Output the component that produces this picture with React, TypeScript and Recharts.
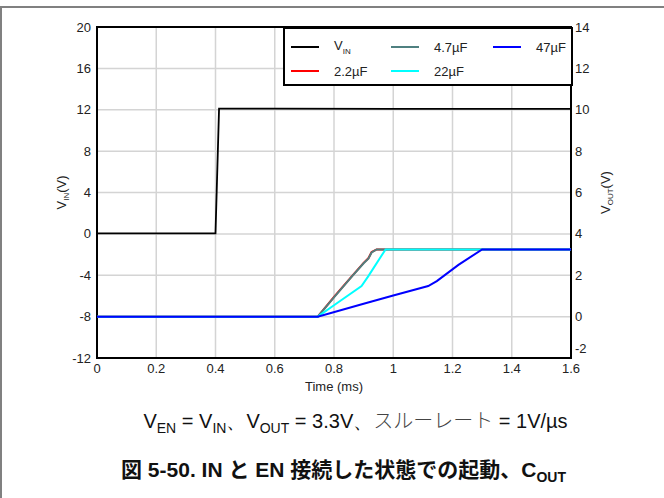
import { LineChart, Line, XAxis, YAxis, CartesianGrid, ReferenceArea } from "recharts";

// time in ms, voltages in V
const timeTicks = [0, 0.2, 0.4, 0.6, 0.8, 1, 1.2, 1.4, 1.6];
const vinTicks = [-12, -8, -4, 0, 4, 8, 12, 16, 20];
const voutTicks = [-2, 0, 2, 4, 6, 8, 10, 12, 14];

const vinT = [0, 0.4, 0.412, 0.6, 1.0, 1.6];
const vinV = [0.05, 0.05, 12.1, 12.1, 12.08, 12.08];

const c22T = [0, 0.745, 0.8, 0.86, 0.9, 0.916, 0.927, 0.944, 1.6];
const c22V = [0, 0, 0.95, 1.95, 2.6, 2.82, 3.12, 3.25, 3.25];

const c47T = [0, 0.745, 0.8, 0.86, 0.9, 0.916, 0.927, 0.944, 1.6];
const c47V = [0, 0, 0.93, 1.93, 2.58, 2.8, 3.1, 3.25, 3.25];

const c220T = [0, 0.745, 0.8, 0.893, 0.916, 0.974, 1.6];
const c220V = [0, 0, 0.55, 1.48, 1.96, 3.25, 3.25];

const c470T = [0, 0.745, 0.9, 1.0, 1.118, 1.147, 1.22, 1.3, 1.6];
const c470V = [0, 0, 0.62, 1.02, 1.48, 1.72, 2.5, 3.25, 3.25];

const zip = (t: number[], v: number[]) => t.map((x, i) => ({ t: x, v: v[i] }));

const series = [
  { name: "2.2µF", color: "#ff0000", data: zip(c22T, c22V) },
  { name: "4.7µF", color: "#4f8080", data: zip(c47T, c47V) },
  { name: "22µF", color: "#00ffff", data: zip(c220T, c220V) },
  { name: "47µF", color: "#0000ff", data: zip(c470T, c470V) },
];

const font = "'Liberation Sans', Arial, sans-serif";
const tickStyle = { fontSize: 13, fill: "#222", fontFamily: font };

const LeftLabel = (props: any) => {
  const { x, y, height } = props.viewBox;
  const cx = x + 46;
  const cy = y + height / 2;
  return (
    <text x={cx} y={cy} transform={`rotate(-90, ${cx}, ${cy})`} textAnchor="middle" fontSize={13} fontFamily={font} fill="#222">
      V<tspan fontSize={8} dy={3}>IN</tspan>
      <tspan fontSize={13} dy={-3}>(V)</tspan>
    </text>
  );
};

const RightLabel = (props: any) => {
  const { x, y, height } = props.viewBox;
  const cx = x + 39;
  const cy = y + height / 2;
  return (
    <text x={cx} y={cy} transform={`rotate(-90, ${cx}, ${cy})`} textAnchor="middle" fontSize={13} fontFamily={font} fill="#222">
      V<tspan fontSize={8} dy={3}>OUT</tspan>
      <tspan fontSize={13} dy={-3}>(V)</tspan>
    </text>
  );
};

// lowest right tick is lifted a little so it clears the time axis labels
const RightTick = (props: any) => {
  const { x, y, payload } = props;
  const lift = payload.value === voutTicks[0] ? -10 : 0;
  return (
    <text x={x} y={y + lift} dy={4.5} textAnchor="start" {...tickStyle}>
      {payload.value}
    </text>
  );
};

const legendItems = [
  { name: "V", sub: "IN", color: "#000" },
  { name: "4.7µF", color: "#4f8080" },
  { name: "47µF", color: "#0000ff" },
  { name: "2.2µF", color: "#ff0000" },
  { name: "22µF", color: "#00ffff" },
];

export default function App() {
  return (
    <div style={{ position: "absolute", left: 0, top: 0, width: 664, height: 498, background: "#fff", fontFamily: font }}>
      <div style={{ position: "absolute", left: 0, top: 6, width: 664, height: 492, borderTop: "2px solid #808080", borderLeft: "2px solid #808080", boxSizing: "border-box" }} />
      <div style={{ position: "absolute", left: 0, top: 0 }}>
        <LineChart width={664} height={400} margin={{ top: 27, right: 20, bottom: 12, left: 20 }}>
          <CartesianGrid yAxisId="left" stroke="#d4d4d4" strokeWidth={1.5} horizontalValues={[-8, -4, 0, 4, 8, 12, 16]} verticalValues={[0.2, 0.4, 0.6, 0.8, 1, 1.2, 1.4]} />
          <XAxis dataKey="t" type="number" domain={[0, 1.6]} ticks={timeTicks} allowDuplicatedCategory={false} tick={tickStyle} tickLine={false} axisLine={false} height={30} tickSize={4}
            label={{ value: "Time (ms)", position: "insideBottom", offset: -3, fontSize: 13, fill: "#222", fontFamily: font }} />
          <YAxis yAxisId="left" type="number" domain={[-12, 20]} ticks={vinTicks} tick={tickStyle} tickLine={false} axisLine={false} width={77} tickSize={4} label={<LeftLabel />} />
          <YAxis yAxisId="right" orientation="right" type="number" domain={[-2, 14]} ticks={voutTicks} tick={<RightTick />} tickLine={false} axisLine={false} width={73} tickSize={2} label={<RightLabel />} />
          <Line yAxisId="left" data={zip(vinT, vinV)} dataKey="v" stroke="#000" strokeWidth={1.8} dot={false} isAnimationActive={false} />
          {series.map((s) => (
            <Line key={s.name} yAxisId="right" data={s.data} dataKey="v" name={s.name} stroke={s.color} strokeWidth={2} dot={false} isAnimationActive={false} />
          ))}
          <ReferenceArea yAxisId="left" x1={0} x2={1.6} y1={-12} y2={20} fill="none" stroke="#000" strokeWidth={2} />
        </LineChart>
      </div>
      <div style={{ position: "absolute", left: 283, top: 27, width: 290, height: 59, border: "2px solid #000", boxSizing: "border-box", background: "#fff", display: "grid", gridTemplateColumns: "100px 102px 80px", gridTemplateRows: "24px 24px", paddingTop: 6, paddingLeft: 6, fontSize: 13, color: "#222" }}>
        {legendItems.map((it) => (
          <div key={it.name + (it.sub || "")} style={{ display: "flex", alignItems: "center" }}>
            <span style={{ display: "inline-block", width: 28, height: 2, background: it.color, marginRight: 15 }} />
            <span>{it.name}{it.sub ? <sub style={{ fontSize: 8 }}>{it.sub}</sub> : null}</span>
          </div>
        ))}
      </div>
      <div style={{ position: "absolute", left: 0, width: 664, top: 405, textAlign: "center", fontSize: 20, color: "#111", paddingLeft: 47, boxSizing: "border-box", whiteSpace: "nowrap" }}>
        V<sub style={{ fontSize: 14 }}>EN</sub> = V<sub style={{ fontSize: 14 }}>IN</sub>、V<sub style={{ fontSize: 14 }}>OUT</sub> = 3.3V、<span style={{ fontFamily: "'Noto Sans CJK JP'", fontWeight: 300, color: "#444" }}>スルーレート</span> = 1V/µs
      </div>
      <div style={{ position: "absolute", left: 0, width: 664, top: 453, textAlign: "center", fontSize: 21, fontWeight: "bold", color: "#111", paddingLeft: 23, boxSizing: "border-box", whiteSpace: "nowrap", fontFamily: "'Liberation Sans', 'Noto Sans CJK JP', sans-serif" }}>
        図 5-50. IN と EN 接続した状態での起動、C<sub style={{ fontSize: 14 }}>OUT</sub>
      </div>
    </div>
  );
}
